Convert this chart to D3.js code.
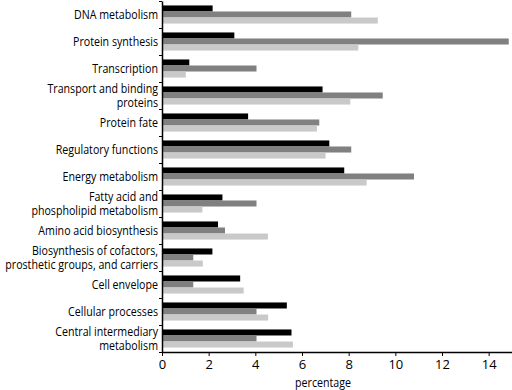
<!DOCTYPE html>
<html>
<head>
<meta charset="utf-8">
<script src="https://cdn.jsdelivr.net/npm/d3@7"></script>
<style>
  body { margin: 0; background: #fff; }
  text { font-family: "Open Sans", sans-serif; fill: #000; }
</style>
</head>
<body>
<script>
// categories, top to bottom (each label split into its printed lines)
var categories = [
  ["DNA metabolism"],
  ["Protein synthesis"],
  ["Transcription"],
  ["Transport and binding", "proteins"],
  ["Protein fate"],
  ["Regulatory functions"],
  ["Energy metabolism"],
  ["Fatty acid and", "phospholipid metabolism"],
  ["Amino acid biosynthesis"],
  ["Biosynthesis of cofactors,", "prosthetic groups, and carriers"],
  ["Cell envelope"],
  ["Cellular processes"],
  ["Central intermediary", "metabolism"]
];

// three series, one value per category (percentage)
var seriesBlack = [2.17, 3.1, 1.17, 6.88, 3.69, 7.17, 7.81, 2.59, 2.4, 2.16, 3.35, 5.35, 5.55];
var seriesDark  = [8.11, 14.86, 4.05, 9.46, 6.74, 8.11, 10.8, 4.05, 2.7, 1.34, 1.34, 4.05, 4.05];
var seriesLight = [9.25, 8.41, 1.02, 8.07, 6.64, 7.01, 8.77, 1.73, 4.54, 1.75, 3.5, 4.55, 5.61];

var xTicks = [0, 2, 4, 6, 8, 10, 12, 14];
var xLabel = "percentage";

var seriesColors = ["#000000", "#808080", "#c9c9c9"];

var margin = {top: 1, right: 0, bottom: 38, left: 162},
    width = 512 - margin.left - margin.right,
    height = 390 - margin.top - margin.bottom;

// the reference font is narrow, so squeeze the text a little
var squeeze = 0.82;

var svg = d3.select("body").append("svg")
    .attr("width", 512)
    .attr("height", 390)
  .append("g")
    .attr("transform", "translate(" + margin.left + "," + margin.top + ")");

var x = d3.scaleLinear().domain([0, 15]).range([0, width]);

var y = d3.scaleBand()
    .domain(d3.range(categories.length))
    .range([0, height])
    .paddingInner(0.33)
    .paddingOuter(0.165);

var sub = d3.scaleBand()
    .domain([0, 1, 2])
    .range([0, y.bandwidth()]);

// bars
var allSeries = [seriesBlack, seriesDark, seriesLight];
allSeries.forEach(function(values, s) {
  svg.selectAll(".bar" + s)
      .data(values)
    .enter().append("rect")
      .attr("class", "bar" + s)
      .attr("x", x(0))
      .attr("y", function(d, i) { return y(i) + sub(s); })
      .attr("width", function(d) { return x(d) - x(0); })
      .attr("height", sub.bandwidth())
      .style("fill", seriesColors[s]);
});

// x axis
var xAxis = svg.append("g")
    .attr("transform", "translate(0," + height + ")")
    .call(d3.axisBottom(x).tickValues(xTicks).tickSize(4).tickPadding(4).tickSizeOuter(0));
xAxis.select(".domain").attr("stroke-width", 1.5);
xAxis.selectAll("text").style("font-size", "13px");

svg.append("text")
    .attr("transform", "translate(" + x(6.9) + "," + (height + 35) + ") scale(" + squeeze + ",1)")
    .style("text-anchor", "middle")
    .style("font-size", "13px")
    .text(xLabel);

// y axis: line with ticks on the category boundaries
var yLine = d3.scaleLinear().domain([0, categories.length]).range([0, height]);
var yAxis = svg.append("g")
    .call(d3.axisLeft(yLine).ticks(categories.length).tickSize(3).tickFormat("").tickSizeOuter(0));
yAxis.select(".domain").attr("stroke-width", 1.5);

// category labels
var labels = svg.selectAll(".cat")
    .data(categories)
  .enter().append("text")
    .attr("class", "cat")
    .attr("transform", function(d, i) {
      return "translate(-4," + (y(i) + y.bandwidth() / 2) + ") scale(" + squeeze + ",1)";
    })
    .style("text-anchor", "end")
    .style("font-size", "13px");

labels.each(function(d) {
  var t = d3.select(this);
  var n = d.length;
  d.forEach(function(line, k) {
    t.append("tspan")
      .attr("x", 0)
      .attr("dy", k === 0 ? (0.35 - (n - 1) * 0.55) + "em" : "1.1em")
      .text(line);
  });
});
</script>
</body>
</html>
